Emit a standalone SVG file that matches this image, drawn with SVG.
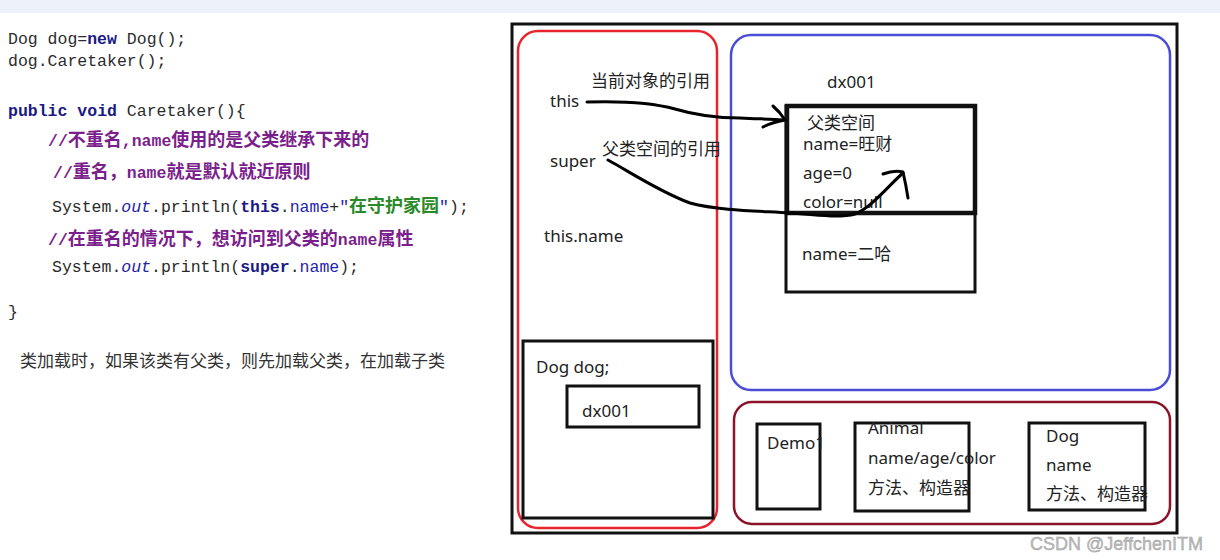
<svg xmlns="http://www.w3.org/2000/svg" width="1220" height="560" viewBox="0 0 1220 560">
<style>
.code{font-family:"Liberation Mono","Noto Sans CJK SC",monospace;font-size:16.5px;fill:#2b2b2b}
.cjk{font-family:"Noto Sans CJK SC",sans-serif;font-size:18px}
.kw{font-weight:bold;fill:#1a1a86}
.cm{font-weight:bold;fill:#7b1f8c}
.fld{fill:#2323b0}
.str{font-weight:bold;fill:#2a8a2a}
.it{font-style:italic;fill:#2323a0}
.note{font-family:"Noto Sans CJK SC",sans-serif;font-size:17px;fill:#333}
.lbl{font-family:"Noto Sans","Noto Sans CJK SC",sans-serif;font-size:17px;fill:#222}
.box{fill:none;stroke:#111;stroke-width:3}
.arr{fill:none;stroke:#000;stroke-width:3;stroke-linecap:round;stroke-linejoin:round}
.wm{font-family:"Liberation Sans",sans-serif;font-size:18px;fill:#bdbdbd;stroke:#9a9a9a;stroke-width:0.4}
</style>
<rect x="0" y="0" width="1220" height="560" fill="#fff"/>
<rect x="0" y="0" width="1220" height="13" fill="#edf1fa"/>

<g id="code">
<text class="code" x="8" y="44">Dog dog=<tspan class="kw">new</tspan> Dog();</text>
<text class="code" x="8" y="66">dog.Caretaker();</text>
<text class="code" x="8" y="116"><tspan class="kw">public</tspan> <tspan class="kw">void</tspan> Caretaker(){</text>
<text class="code cm" x="48" y="146">//<tspan class="cjk">不重名</tspan>,name<tspan class="cjk">使用的是父类继承下来的</tspan></text>
<text class="code cm" x="53" y="178">//<tspan class="cjk">重名，</tspan>name<tspan class="cjk">就是默认就近原则</tspan></text>
<text class="code" x="52" y="212">System.<tspan class="it">out</tspan>.println(<tspan class="kw">this</tspan>.<tspan class="fld">name</tspan>+<tspan class="fld">"</tspan><tspan class="cjk str">在守护家园</tspan><tspan class="fld">"</tspan>);</text>
<text class="code cm" x="48" y="245">//<tspan class="cjk">在重名的情况下，想访问到父类的</tspan>name<tspan class="cjk">属性</tspan></text>
<text class="code" x="52" y="272">System.<tspan class="it">out</tspan>.println(<tspan class="kw">super</tspan>.<tspan class="fld">name</tspan>);</text>
<text class="code" x="8" y="317">}</text>
<text class="note" x="20" y="367">类加载时，如果该类有父类，则先加载父类，在加载子类</text>
</g>

<g id="memory">
<rect x="512" y="24" width="665" height="509" fill="none" stroke="#111" stroke-width="3"/>
</g>

<g id="stack">
<rect x="518" y="31" width="199" height="497" rx="20" fill="none" stroke="#e8242c" stroke-width="2.5"/>
<text class="lbl" x="591" y="87">当前对象的引用</text>
<text class="lbl" x="550" y="107">this</text>
<text class="lbl" x="602" y="155">父类空间的引用</text>
<text class="lbl" x="550" y="167">super</text>
<text class="lbl" x="544" y="242">this.name</text>
</g>

<g id="frame">
<rect x="523" y="341" width="190" height="177" class="box"/>
<text class="lbl" x="536" y="373">Dog dog;</text>
</g>

<g id="ref">
<rect x="567" y="386" width="132" height="41" class="box"/>
<text class="lbl" x="582" y="417">dx001</text>
</g>

<g id="heap">
<rect x="731" y="35" width="439" height="355" rx="20" fill="none" stroke="#4a4ed4" stroke-width="2.5"/>
<text class="lbl" x="827" y="88">dx001</text>
</g>

<g id="object">
<rect x="786" y="106" width="189" height="186" class="box"/>
<rect x="787" y="106" width="188" height="107" fill="none" stroke="#111" stroke-width="4.5"/>
<text class="lbl" x="807" y="129">父类空间</text>
<text class="lbl" x="803" y="150">name=旺财</text>
<text class="lbl" x="803" y="179">age=0</text>
<text class="lbl" x="803" y="208">color=null</text>
<text class="lbl" x="802" y="260">name=二哈</text>
</g>

<g id="method-area">
<rect x="734" y="402" width="436" height="122" rx="18" fill="none" stroke="#8b1429" stroke-width="2.5"/>
</g>

<g id="demo1">
<rect x="757" y="424" width="63" height="85" class="box"/>
<text class="lbl" x="767" y="449">Demo1</text>
</g>

<g id="animal">
<rect x="855" y="423" width="114" height="88" class="box"/>
<text class="lbl" x="868" y="434">Animal</text>
<text class="lbl" x="868" y="464">name/age/color</text>
<text class="lbl" x="868" y="494">方法、构造器</text>
</g>

<g id="dog">
<rect x="1029" y="423" width="116" height="87" class="box"/>
<text class="lbl" x="1046" y="442">Dog</text>
<text class="lbl" x="1046" y="471">name</text>
<text class="lbl" x="1046" y="500">方法、构造器</text>
</g>

<g id="connectors">
<path class="arr" d="M587,102 C620,101 650,102 675,109 C695,115 715,118 740,118 C760,119 772,119 783,120"/>
<path class="arr" d="M773,106 Q780,112 785,120 Q773,122 763,127"/>
<path class="arr" d="M608,160 C630,172 660,192 690,203 C720,211 760,211 790,213 C815,215 840,218 855,214 C872,207 888,186 903,173"/>
<path class="arr" d="M883,174 Q894,170 903,172 Q906,185 908,198"/>
</g>

<text class="wm" x="1030" y="550">CSDN @JeffchenITM</text>
</svg>
